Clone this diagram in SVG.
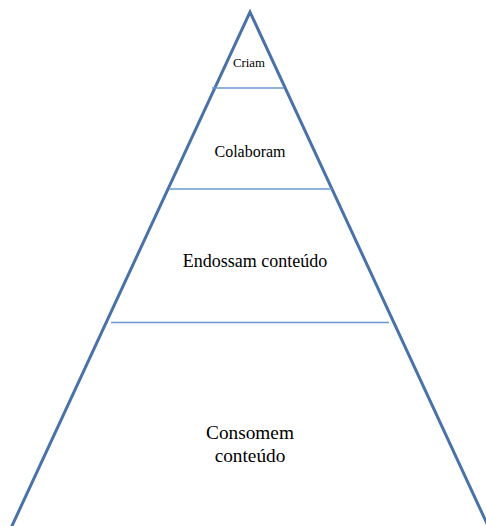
<svg xmlns="http://www.w3.org/2000/svg" width="486" height="526" viewBox="0 0 486 526">
<style>
.edge{fill:none;stroke:#4a72a8;stroke-width:3;stroke-linejoin:miter}
.div{stroke:#6b98d2;stroke-width:1.3}
.t{font-family:'Liberation Serif',Tinos,'Times New Roman',Times,serif;fill:#000;text-anchor:middle}
</style>
<rect width="486" height="526" fill="#fff"/>
<g id="connectors">
<polyline class="edge" points="11,528 250,12 489,528"/>
<line class="div" x1="212" y1="88" x2="284" y2="88"/>
<line class="div" x1="169" y1="189" x2="332" y2="189"/>
<line class="div" x1="111" y1="322.5" x2="389" y2="322.5"/>
</g>
<g id="criam"><text class="t" x="249" y="67" font-size="12.8">Criam</text></g>
<g id="colaboram"><text class="t" x="250" y="157" font-size="16">Colaboram</text></g>
<g id="endossam"><text class="t" x="255" y="267" font-size="18">Endossam conteúdo</text></g>
<g id="consomem"><text class="t" x="250" y="439" font-size="19.3">Consomem</text><text class="t" x="250" y="462" font-size="19.3">conteúdo</text></g>
</svg>
